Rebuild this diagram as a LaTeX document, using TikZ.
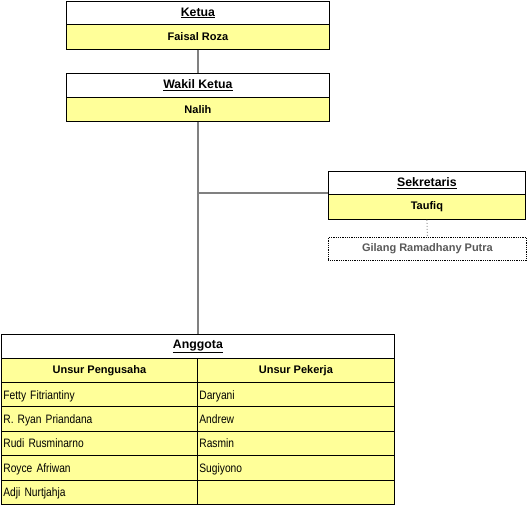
\documentclass[tikz,border=0pt]{standalone}
\usepackage{fontspec}
\setmainfont{Liberation Sans}
\newfontfamily\narrowfont[FakeStretch=0.84]{Liberation Sans}
\definecolor{cellyellow}{HTML}{FFFF99}
\definecolor{linkgray}{HTML}{808080}
\definecolor{softtext}{HTML}{595959}
\begin{document}
\begin{tikzpicture}[x=1pt,y=-1pt,
  cell/.style={draw=black,line width=0.8pt,inner sep=0pt,anchor=north west},
  titlecell/.style={cell,fill=white,font=\fontsize{12.3}{14}\selectfont\bfseries},
  namecell/.style={cell,fill=cellyellow,font=\fontsize{11}{13}\selectfont\bfseries},
  listcell/.style={cell,fill=cellyellow,font=\narrowfont\fontsize{12.2}{14}\selectfont,
    text depth=0pt,align=left},
  link/.style={draw=linkgray,line width=1.3pt},
  softlink/.style={draw=linkgray!80,line width=1pt,dotted}]
\useasboundingbox (0,0) rectangle (527,506);

% Ketua
\node[titlecell,minimum width=263pt,minimum height=23pt] (kT) at (66,1) {\underline{Ketua}};
\node[namecell,minimum width=263pt,minimum height=25pt] (kN) at (66,24) {Faisal Roza};

% Wakil Ketua
\node[titlecell,minimum width=263pt,minimum height=24pt] (wT) at (66,73) {\underline{Wakil Ketua}};
\node[namecell,minimum width=263pt,minimum height=24pt] (wN) at (66,97) {Nalih};

% Sekretaris
\node[titlecell,minimum width=197pt,minimum height=23pt] (sT) at (328,171) {\underline{Sekretaris}};
\node[namecell,minimum width=197pt,minimum height=25pt] (sN) at (328,194) {Taufiq};
\node[cell,draw=black,densely dotted,fill=white,minimum width=198pt,minimum height=23pt,
  font=\fontsize{11}{13}\selectfont\bfseries,text=softtext] (gp) at (328,237) {Gilang Ramadhany Putra};

% Anggota table
\node[titlecell,minimum width=393pt,minimum height=24pt] (aT) at (1,334) {\underline{Anggota}};
\node[namecell,minimum width=196pt,minimum height=24pt] (hL) at (1,358) {Unsur Pengusaha};
\node[namecell,minimum width=197pt,minimum height=24pt] (hR) at (197,358) {Unsur Pekerja};

\foreach \i/\lname/\rname in {0/Fetty Fitriantiny/Daryani,
                              1/R. Ryan Priandana/Andrew,
                              2/Rudi Rusminarno/Rasmin,
                              3/Royce Afriwan/Sugiyono,
                              4/Adji Nurtjahja/{}} {
  \node[listcell,minimum width=196pt,minimum height=24.4pt,text width=194pt] (l\i)
    at (1,{382+24.4*\i}) {\hspace*{1pt}\lname};
  \node[listcell,minimum width=197pt,minimum height=24.4pt,text width=195pt] (r\i)
    at (197,{382+24.4*\i}) {\hspace*{1pt}\rname};
}

% Connectors
\draw[link] (kN.south) -- (wT.north);
\draw[link] (wN.south) -- (wN.south |- aT.north);
\coordinate (branch) at (wN.south |- 0,193);
\draw[link] (branch) -- (sT.south west |- branch);
\draw[softlink] (sN.south) -- (gp.north);
\end{tikzpicture}
\end{document}
